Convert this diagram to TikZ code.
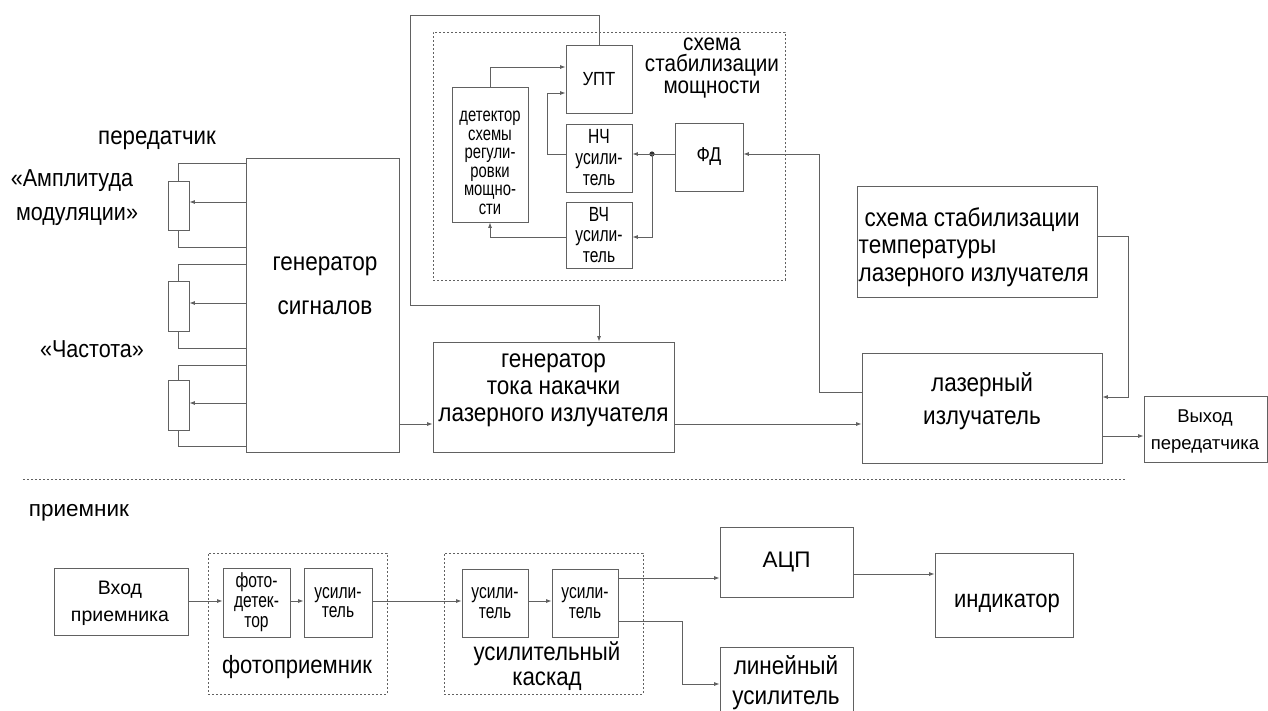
\documentclass[tikz,border=0pt]{standalone}
\usepackage{fontspec}
\setmainfont{Liberation Sans}
\newfontfamily\sq[FakeStretch=0.88]{Liberation Sans}
\newfontfamily\sqq[FakeStretch=0.76]{Liberation Sans}
\usetikzlibrary{arrows.meta,calc}
\definecolor{lc}{gray}{0.38}
\newcommand\fsz[2]{\fontsize{#1}{#2}\selectfont}
\tikzset{
 box/.style={draw=lc, line width=0.8pt, inner sep=0pt, align=center, text=black},
 txt/.style={inner sep=0pt, align=center, text=black},
 arr/.style={draw=lc, line width=0.8pt, -{Latex[length=5.5pt,width=4pt]}},
 wire/.style={draw=lc, line width=0.8pt},
 dbox/.style={draw=lc, line width=0.7pt, dash pattern=on 2pt off 2pt, inner sep=0pt},
}
\begin{document}
\begin{tikzpicture}[x=1pt,y=-1pt]
\path[use as bounding box, clip] (0,0) rectangle (1268,710);
\fill[white] (0,0) rectangle (1268,710);

% ---------- transmitter ----------
\node[txt, font=\fsz{25.3}{26}\sq] (tx) at (157,140) {передатчик};
\node[txt, font=\fsz{24.5}{26}\sq] (am1) at (72,181) {«Амплитуда};
\node[txt, font=\fsz{24.5}{26}\sq] (am2) at (77,216) {модуляции»};
\node[txt, font=\fsz{24.5}{26}\sq] (fr) at (92,349) {«Частота»};

\node[box, minimum width=153, minimum height=294] (gen) at (322.5,305) {};
\node[txt, font=\fsz{25.6}{44}\sq] (gent) at (325,286) {генератор\\сигналов};

% potentiometers
\node[box, minimum width=21, minimum height=49] (p1) at (178.5,205.5) {};
\node[box, minimum width=21, minimum height=50] (p2) at (178.5,306) {};
\node[box, minimum width=21, minimum height=50] (p3) at (178.5,405) {};
\coordinate (g1t) at (246,163); \coordinate (g1w) at (246,202); \coordinate (g1b) at (246,247);
\coordinate (g2t) at (246,264); \coordinate (g2w) at (246,303); \coordinate (g2b) at (246,348);
\coordinate (g3t) at (246,365); \coordinate (g3w) at (246,403); \coordinate (g3b) at (246,446);
\draw[wire] (p1.north) |- (g1t);
\draw[wire] (p1.south) |- (g1b);
\draw[arr] (g1w) -- (p1.east |- g1w);
\draw[wire] (p2.north) |- (g2t);
\draw[wire] (p2.south) |- (g2b);
\draw[arr] (g2w) -- (p2.east |- g2w);
\draw[wire] (p3.north) |- (g3t);
\draw[wire] (p3.south) |- (g3b);
\draw[arr] (g3w) -- (p3.east |- g3w);

% power stabilisation
\node[dbox, minimum width=352, minimum height=248] (stab) at (609,156) {};
\node[txt, font=\fsz{23.5}{21.5}\sq] (stabl) at (712,68) {схема\\стабилизации\\мощности};
\node[box, minimum width=66, minimum height=68, font=\fsz{19}{20}\sq] (upt) at (599,79) {УПТ};
\node[box, minimum width=66, minimum height=68, font=\fsz{20.5}{21}\sqq] (nch) at (599,158) {НЧ\\усили-\\тель};
\node[box, minimum width=66, minimum height=66, font=\fsz{20.5}{20.5}\sqq] (vch) at (599,235) {ВЧ\\усили-\\тель};
\node[box, minimum width=76, minimum height=135] (det) at (490,154.5) {};
\node[txt, font=\fsz{19.5}{18.5}\sqq] (dett) at (490,163) {детектор\\схемы\\регули-\\ровки\\мощно-\\сти};
\node[box, minimum width=68, minimum height=68, font=\fsz{20}{20}\sq] (fd) at (709,157) {ФД};

\coordinate (j) at (652,154);
\fill[black!80] (j) circle (2.6);
\draw[wire] (fd.west |- j) -- (j);
\draw[arr] (j) -- (nch.east |- j);
\coordinate (r237) at (0,237);
\draw[arr] (j) |- (vch.east |- r237);
\coordinate (r93) at (0,93);
\draw[arr] (nch.west |- j) -| (547,93) -- (upt.west |- r93);
\coordinate (r67) at (0,67);
\draw[arr] (det.north) |- (upt.west |- r67);
\draw[arr] (vch.west |- r237) -| (det.south);

% pump current generator
\node[box, minimum width=241, minimum height=110] (gtn) at (553.5,397) {};
\node[txt, font=\fsz{25.6}{27}\sq] (gtnt) at (553.5,390) {генератор\\тока накачки\\лазерного излучателя};
\draw[arr] (upt.north) |- (410,15) |- (599,305) -- (upt.north |- gtn.north);

% temperature stabilisation
\node[box, minimum width=240, minimum height=111] (temp) at (977,241.5) {};
\node[txt, anchor=west, align=left, font=\fsz{25.6}{27.5}\sq] (tempt) at (858.5,247) {\hspace*{6pt}схема стабилизации\\температуры\\лазерного излучателя};

% laser
\node[box, minimum width=240, minimum height=110] (laser) at (982,408) {};
\node[txt, font=\fsz{25.6}{33}\sq] (lasert) at (982,401) {лазерный\\излучатель};
\node[box, minimum width=123, minimum height=66] (out) at (1205.5,429) {};
\node[txt, font=\fsz{18.5}{27}] (outt) at (1205,432) {Выход\\передатчика};

\coordinate (row) at (0,424);
\draw[arr] (gen.east |- row) -- (gtn.west |- row);
\draw[arr] (gtn.east |- row) -- (laser.west |- row);
\coordinate (fbl) at (0,392);
\draw[arr] (laser.west |- fbl) -| (819,154) -- (fd.east |- j);
\coordinate (lr) at (0,397); \coordinate (tr) at (0,236);
\draw[arr] (temp.east |- tr) -| (1128,397) -- (laser.east |- lr);
\coordinate (orow) at (0,436);
\draw[arr] (laser.east |- orow) -- (out.west |- orow);

% separator
\coordinate (sepl) at (23,479); \coordinate (sepr) at (1127,479);
\draw[lc, line width=0.7pt, dash pattern=on 1.5pt off 2.5pt] (sepl) -- (sepr);

% ---------- receiver ----------
\node[txt, font=\fsz{22.5}{26}] (rx) at (79,513) {приемник};

\node[box, minimum width=134, minimum height=67] (vhod) at (121,601.5) {};
\node[txt, font=\fsz{19.5}{27}] (vhodt) at (120,603.5) {Вход\\приемника};

\node[dbox, minimum width=179, minimum height=141] (fpr) at (297.5,623.5) {};
\node[box, minimum width=67, minimum height=69, font=\fsz{20.5}{20}\sqq] (fdet) at (256.5,602.5) {фото-\\детек-\\тор};
\node[box, minimum width=68, minimum height=69, font=\fsz{20.5}{19.5}\sqq] (us0) at (338,602.5) {усили-\\тель};
\node[txt, font=\fsz{25}{26}\sq] (fprt) at (297,667) {фотоприемник};

\node[dbox, minimum width=199, minimum height=141] (kas) at (543.5,623.5) {};
\node[box, minimum width=66, minimum height=68, font=\fsz{20.5}{19.5}\sqq] (us1) at (495,603) {усили-\\тель};
\node[box, minimum width=66, minimum height=68, font=\fsz{20.5}{19.5}\sqq] (us2) at (585,603) {усили-\\тель};
\node[txt, font=\fsz{25.3}{25.5}\sq] (kast) at (547,666) {усилительный\\каскад};

\node[box, minimum width=133, minimum height=70, font=\fsz{22.5}{26}] (adc) at (786.5,562) {АЦП};
\node[box, minimum width=138, minimum height=84] (ind) at (1004,595) {};
\node[txt, font=\fsz{25}{26}\sq] (indt) at (1007,603) {индикатор};
\node[box, minimum width=133, minimum height=83] (lin) at (786.5,688.5) {};
\node[txt, font=\fsz{25.6}{30}\sq] (lint) at (786,683) {линейный\\усилитель};

\coordinate (brow) at (0,601);
\draw[arr] (vhod.east |- brow) -- (fdet.west |- brow);
\draw[arr] (fdet.east |- brow) -- (us0.west |- brow);
\draw[arr] (us0.east |- brow) -- (us1.west |- brow);
\draw[arr] (us1.east |- brow) -- (us2.west |- brow);
\coordinate (r578) at (0,578);
\draw[arr] (us2.east |- r578) -- (adc.west |- r578);
\coordinate (r574) at (0,574);
\draw[arr] (adc.east |- r574) -- (ind.west |- r574);
\coordinate (r621) at (0,621); \coordinate (r684) at (0,684);
\draw[arr] (us2.east |- r621) -| (682,684) -- (lin.west |- r684);
\end{tikzpicture}
\end{document}
